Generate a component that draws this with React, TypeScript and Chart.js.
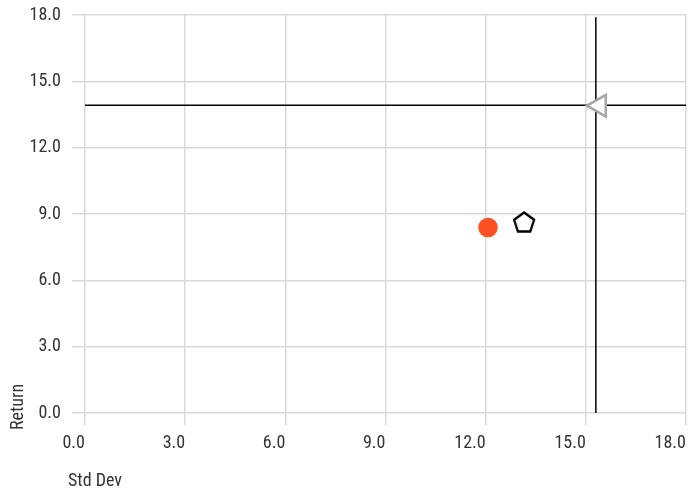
import React, { useEffect, useRef } from "react";
import { Chart, registerables } from "chart.js";

Chart.register(...registerables);

// Data
const xTicks = [0, 3, 6, 9, 12, 15, 18];
const yTicks = [0, 3, 6, 9, 12, 15, 18];
const fundPoint = [{ x: 12.07, y: 8.39 }];
const benchmarkPoint = [{ x: 13.15, y: 8.64 }];
const categoryPoint = [{ x: 15.41, y: 13.9 }];
const crossX = 15.3;
const crossY = 13.92;
const verticalLine = [{ x: crossX, y: 0 }, { x: crossX, y: 17.9 }];
const horizontalLine = [{ x: 0, y: crossY }, { x: 18.05, y: crossY }];
const xTitle = "Std Dev";
const yTitle = "Return";

const FONT = "'Roboto Condensed', 'Liberation Sans Narrow', 'DejaVu Sans Condensed', 'Open Sans Condensed', Roboto, sans-serif";
const TEXT = "#333333";
const GRID = "#d9d9d9";
const FS = 18;

function makePentagon(): HTMLCanvasElement {
  const size = 28;
  const c = document.createElement("canvas");
  c.width = size;
  c.height = size;
  const ctx = c.getContext("2d")!;
  const cx = size / 2;
  const cy = size / 2 + 1;
  const r = 10.5;
  ctx.beginPath();
  for (let i = 0; i < 5; i++) {
    const a = -Math.PI / 2 + (i * 2 * Math.PI) / 5;
    const px = cx + r * Math.cos(a);
    const py = cy + r * Math.sin(a);
    if (i === 0) ctx.moveTo(px, py);
    else ctx.lineTo(px, py);
  }
  ctx.closePath();
  ctx.fillStyle = "#ffffff";
  ctx.fill();
  ctx.lineWidth = 2.3;
  ctx.lineJoin = "miter";
  ctx.strokeStyle = "#000000";
  ctx.stroke();
  return c;
}

const titlesPlugin = {
  id: "axisTitles",
  afterDraw(chart: any) {
    const { ctx, chartArea } = chart;
    ctx.save();
    ctx.fillStyle = TEXT;
    ctx.font = `${FS}px ${FONT}`;
    ctx.textBaseline = "alphabetic";
    ctx.textAlign = "left";
    ctx.fillText(xTitle, chartArea.left - 17, chartArea.bottom + 73);
    ctx.translate(chartArea.left - 62, chartArea.bottom + 17);
    ctx.rotate(-Math.PI / 2);
    ctx.fillText(yTitle, 0, 0);
    ctx.restore();
  },
};

export default function App() {
  const ref = useRef<HTMLCanvasElement>(null);
  useEffect(() => {
    if (!ref.current) return;
    const chart = new Chart(ref.current, {
      type: "scatter",
      data: {
        datasets: [
          {
            label: "Category",
            data: categoryPoint,
            pointStyle: "triangle",
            rotation: -90,
            pointRadius: 12.5,
            backgroundColor: "#ffffff",
            borderColor: "#a6a6a6",
            borderWidth: 2.5,
          },
          {
            label: "Fund",
            data: fundPoint,
            pointStyle: "circle",
            pointRadius: 9.75,
            backgroundColor: "#fe5022",
            borderColor: "#fe5022",
            borderWidth: 0,
          },
          {
            label: "Benchmark",
            data: benchmarkPoint,
            pointStyle: makePentagon(),
            pointRadius: 11,
          },
          {
            label: "v",
            data: verticalLine,
            showLine: true,
            pointRadius: 0,
            borderColor: "#000000",
            borderWidth: 1.5,
          },
          {
            label: "h",
            data: horizontalLine,
            showLine: true,
            pointRadius: 0,
            borderColor: "#000000",
            borderWidth: 1.5,
          },
        ],
      },
      options: {
        animation: false,
        responsive: true,
        maintainAspectRatio: false,
        layout: { autoPadding: false, padding: { top: 15, right: 8, left: 0, bottom: 0 } },
        plugins: {
          legend: { display: false },
          tooltip: { enabled: false },
        },
        scales: {
          x: {
            type: "linear",
            min: xTicks[0],
            max: xTicks[xTicks.length - 1],
            afterBuildTicks: (s: any) => {
              s.ticks = xTicks.map((v) => ({ value: v }));
            },
            afterFit: (s: any) => {
              s.height = 76;
              s.paddingLeft = 0;
              s.paddingRight = 0;
            },
            border: { display: false },
            grid: { color: GRID, lineWidth: 1.5, tickLength: 12, drawTicks: true },
            ticks: {
              align: "end",
              padding: 8,
              color: TEXT,
              font: { family: FONT, size: FS },
              callback: (v: any) => Number(v).toFixed(1),
            },
          },
          y: {
            type: "linear",
            min: yTicks[0],
            max: yTicks[yTicks.length - 1],
            afterBuildTicks: (s: any) => {
              s.ticks = yTicks.map((v) => ({ value: v }));
            },
            afterFit: (s: any) => {
              s.width = 85;
              s.paddingTop = 0;
              s.paddingBottom = 0;
            },
            border: { display: false },
            grid: { color: GRID, lineWidth: 1.5, tickLength: 13, drawTicks: true },
            ticks: {
              padding: 11,
              color: TEXT,
              font: { family: FONT, size: FS },
              callback: (v: any) => Number(v).toFixed(1),
            },
          },
        },
      },
      plugins: [titlesPlugin],
    } as any);
    return () => chart.destroy();
  }, []);
  return (
    <div style={{ position: "fixed", left: 0, top: 0, width: 694, height: 489 }}>
      <canvas ref={ref} />
    </div>
  );
}
